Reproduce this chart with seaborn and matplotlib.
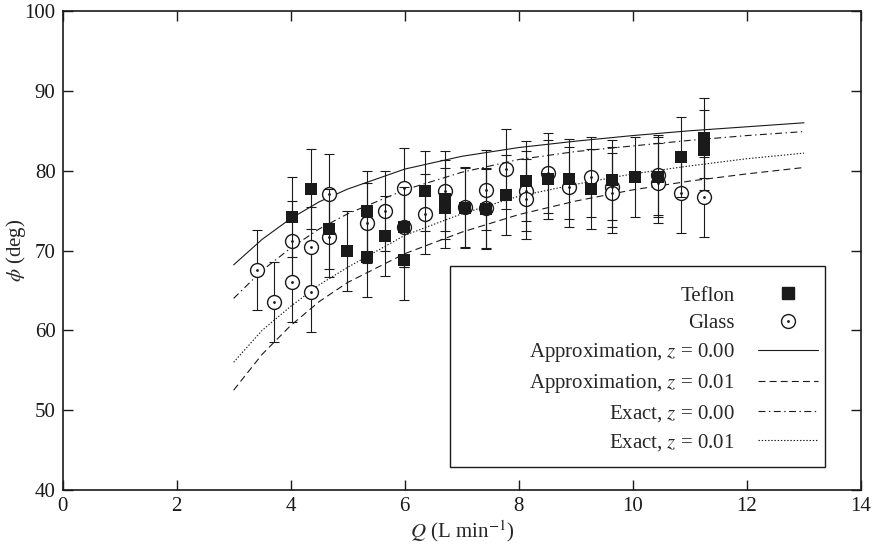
import numpy as np
import matplotlib
matplotlib.use("Agg")
from matplotlib import pyplot as plt
from matplotlib.lines import Line2D
from matplotlib.patches import Rectangle
import seaborn as sns

sns.set_theme(style="ticks")
plt.rcParams['font.family'] = ['Liberation Serif', 'DejaVu Serif']
plt.rcParams['mathtext.fontset'] = 'stix'
plt.rcParams['lines.scale_dashes'] = False

# Measured contact angle data, Q in L/min, phi in degrees
teflon_q = [4.03, 4.35, 4.67, 4.99, 5.33, 5.33, 5.66, 5.99, 5.99, 6.35, 6.70, 6.70,
            7.05, 7.42, 7.77, 8.13, 8.51, 8.88, 9.26, 9.64, 10.04, 10.44, 10.84,
            11.24, 11.24]
teflon_phi = [74.2, 77.7, 72.7, 69.9, 74.9, 69.2, 71.8, 72.9, 68.75, 77.5, 76.4, 75.3,
              75.3, 75.2, 77.0, 78.7, 78.9, 79.0, 77.7, 78.8, 79.25, 79.2, 81.7,
              84.1, 82.6]
glass_q = [3.41, 3.71, 4.03, 4.03, 4.35, 4.35, 4.67, 4.67, 5.33, 5.66, 5.99, 5.99,
           6.35, 6.70, 7.05, 7.42, 7.42, 7.77, 8.13, 8.13, 8.51, 8.88, 9.26, 9.64,
           9.64, 10.44, 10.44, 10.84, 11.24]
glass_phi = [67.6, 63.6, 71.2, 66.0, 70.5, 64.8, 77.1, 71.7, 73.4, 75.0, 77.8, 72.9,
             74.6, 77.5, 75.5, 77.6, 75.3, 80.2, 77.5, 76.5, 79.7, 78.0, 79.25, 78.0,
             77.2, 79.5, 78.5, 77.2, 76.7]
phi_err = 5.0

# Model curves
q_curve = [3, 3.5, 4, 4.5, 5, 6, 7, 8, 9, 10, 11, 12, 13]
approx_z0 = [68.2, 71.4, 74.0, 76.1, 77.7, 80.2, 81.8, 82.9, 83.7, 84.4, 85.0, 85.5, 86.0]
approx_z1 = [52.5, 57.0, 60.6, 63.6, 66.0, 69.6, 72.3, 74.5, 76.2, 77.6, 78.7, 79.6, 80.4]
exact_z0 = [64.0, 67.5, 70.3, 72.7, 74.6, 77.6, 79.8, 81.4, 82.4, 83.1, 83.8, 84.4, 84.9]
exact_z1 = [56.0, 60.0, 63.0, 65.7, 67.9, 71.9, 74.6, 76.8, 78.3, 79.6, 80.6, 81.5, 82.2]

styles = {
    'solid': '-',
    'dashed': (0, (5, 3)),
    'dashdot': (0, (5, 2.5, 1, 2.5)),
    'dotted': (0, (1, 1.3)),
}
fs = 15

fig = plt.figure(figsize=(8.73, 5.51), dpi=100)
ax = fig.add_axes([0.0716, 0.1107, 0.9147, 0.8693])

# Curves
for vals, ls in [(approx_z0, styles['solid']), (approx_z1, styles['dashed']),
                 (exact_z0, styles['dashdot']), (exact_z1, styles['dotted'])]:
    sns.lineplot(x=q_curve, y=vals, ax=ax, color='k', lw=0.8, linestyle=ls,
                 legend=False, zorder=1)

# Glass: errorbars, then white circles with a small centre dot
ax.errorbar(glass_q, glass_phi, yerr=phi_err, fmt='none', ecolor='k',
            elinewidth=0.8, capsize=3.3, capthick=0.8, zorder=2)
sns.scatterplot(x=glass_q, y=glass_phi, ax=ax, marker='o', s=100,
                facecolor='white', edgecolor='k', linewidth=1.0, zorder=3)
ax.plot(glass_q, glass_phi, ls='none', marker='o', ms=1, color='k', zorder=3)

# Teflon: errorbars over everything, filled squares
ax.errorbar(teflon_q, teflon_phi, yerr=phi_err, fmt='none', ecolor='k',
            elinewidth=0.8, capsize=3.3, capthick=0.8, zorder=4)
sns.scatterplot(x=teflon_q, y=teflon_phi, ax=ax, marker='s', s=64,
                color='k', edgecolor='k', linewidth=0, zorder=5)

ax.set_xlim(0, 14)
ax.set_ylim(40, 100)
ax.set_xticks(np.arange(0, 15, 2))
ax.set_yticks(np.arange(40, 101, 10))
ax.tick_params(direction='in', length=7, width=1, labelsize=fs, top=True,
               right=True, pad=5, colors='k')
for sp in ax.spines.values():
    sp.set_visible(True)
    sp.set_linewidth(1.2)
    sp.set_color('k')
ax.set_xlabel(r'$Q$ (L min$^{-1}$)', fontsize=fs, labelpad=2)
ax.set_ylabel(r'$\phi$ (deg)', fontsize=fs)
ax.yaxis.set_label_coords(-0.043, 0.5)

# Legend, with its own frame (wider than the entries)
h_teflon = Line2D([], [], ls='none', marker='s', ms=8, color='k')
h_glass = (Line2D([], [], ls='none', marker='o', ms=10, mfc='white', mec='k', mew=1.0),
           Line2D([], [], ls='none', marker='o', ms=1, color='k'))
h_lines = [Line2D([], [], color='k', lw=0.8, linestyle=styles[k])
           for k in ['solid', 'dashed', 'dashdot', 'dotted']]
labels = ['Teflon', 'Glass',
          r'Approximation, $z$ = 0.00', r'Approximation, $z$ = 0.01',
          r'Exact, $z$ = 0.00', r'Exact, $z$ = 0.01']
ax.add_patch(Rectangle((0.485, 0.048), 0.47, 0.42, transform=ax.transAxes,
                       fill=True, facecolor='white', edgecolor='k', lw=1.0, zorder=6))
leg = ax.legend([h_teflon, h_glass] + h_lines, labels, loc='lower right',
                bbox_to_anchor=(0.946, 0.078), frameon=False, markerfirst=False,
                alignment='right', fontsize=fs, handlelength=2.9,
                handletextpad=1.1, labelspacing=0.38, borderaxespad=0,
                borderpad=0)
leg.set_zorder(7)

fig.savefig('out.png', dpi=100)
